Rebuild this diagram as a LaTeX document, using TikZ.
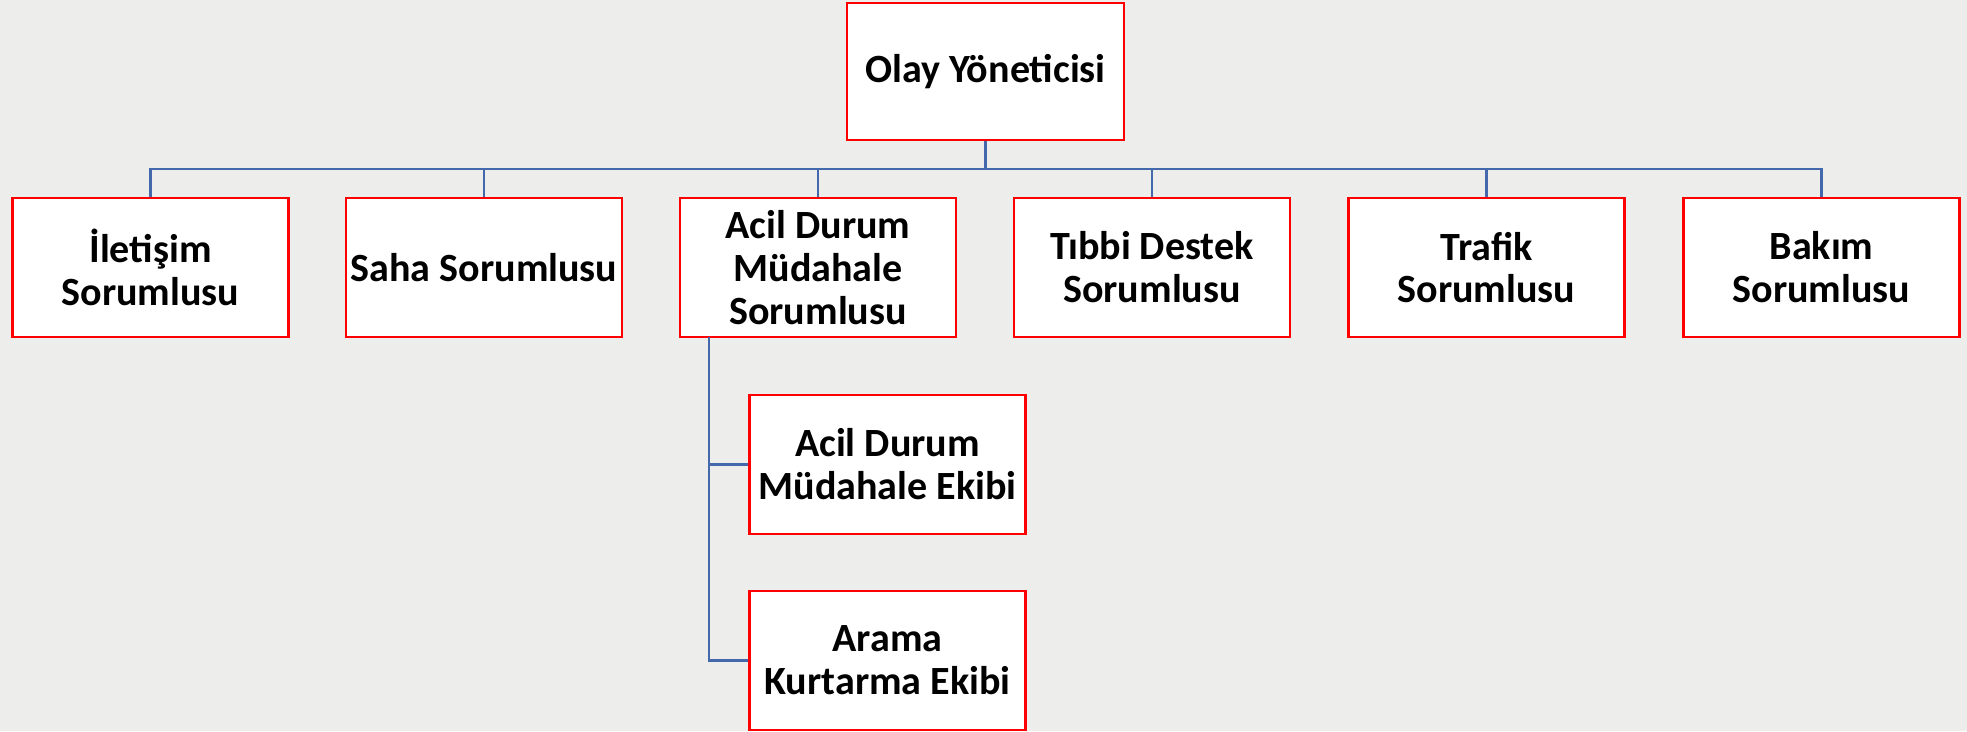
\documentclass[tikz,border=0pt]{standalone}
\usepackage{fontspec}
\setmainfont{Carlito}
\usepackage{tikz}
\definecolor{bggray}{RGB}{237,237,235}
\definecolor{linkblue}{RGB}{68,104,172}

\tikzset{
  unit/.style={draw=red, line width=1.6pt, fill=white, align=center,
    minimum width=5.52cm, minimum height=2.78cm, inner sep=0pt,
    font=\fontsize{22.8}{24.4}\selectfont\bfseries},
  link/.style={draw=linkblue, line width=1.6pt}
}

\begin{document}
\begin{tikzpicture}[x=0.02cm, y=0.02cm]
    \fill[bggray] (0,0) rectangle (1967,-731);
    \useasboundingbox (0,0) rectangle (1967,-731);
    \node[unit, minimum width=5.54cm, minimum height=2.74cm] (OY) at (985.5,-71.5) {Olay Yöneticisi};
    \node[unit] (IS) at (150.5,-267.5) {İletişim\\Sorumlusu};
    \node[unit] (SS) at (484,-267.5) {Saha Sorumlusu};
    \node[unit] (ADMS) at (818,-267.5) {Acil Durum\\Müdahale\\Sorumlusu};
    \node[unit] (TDS) at (1152,-267.5) {Tıbbi Destek\\Sorumlusu};
    \node[unit] (TS) at (1486.5,-267.5) {Trafik\\Sorumlusu};
    \node[unit] (BS) at (1821.5,-267.5) {Bakım\\Sorumlusu};
    \node[unit] (ADME) at (887.5,-464.5) {Acil Durum\\Müdahale Ekibi};
    \node[unit] (AKE) at (887.5,-660.5) {Arama\\Kurtarma Ekibi};
    \coordinate (bus) at (985.5,-169);
    \coordinate (trunk) at (709,-337);
    \draw[link] (OY.south) -- (bus);
    \draw[link] (IS.north) |- (bus);
    \draw[link] (SS.north) |- (bus);
    \draw[link] (ADMS.north) |- (bus);
    \draw[link] (TDS.north) |- (bus);
    \draw[link] (TS.north) |- (bus);
    \draw[link] (BS.north) |- (bus);
    \draw[link] (trunk) |- (ADME.west);
    \draw[link] (trunk) |- (AKE.west);
\end{tikzpicture}
\end{document}
